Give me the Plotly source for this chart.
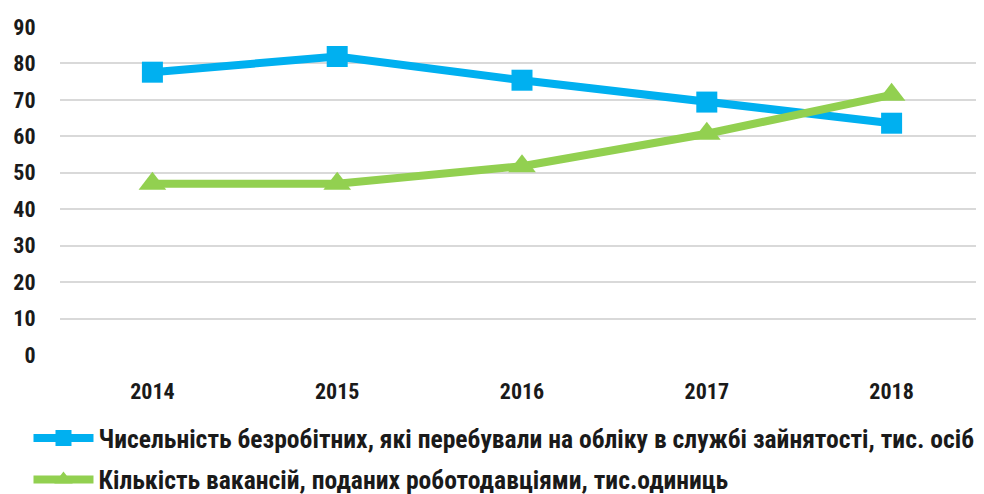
import plotly.graph_objects as go

years = ["2014", "2015", "2016", "2017", "2018"]
unemployed = [77.6, 81.9, 75.4, 69.4, 63.6]
vacancies = [47.0, 47.0, 51.8, 60.7, 71.4]

unemployed_name = "Чисельність безробітних, які перебували на обліку в службі зайнятості, тис. осіб"
vacancies_name = "Кількість вакансій, поданих роботодавціями, тис.одиниць"

FONT = "Liberation Sans Narrow, Roboto Condensed, Arial Narrow, sans-serif"
TEXT = "#1a1a1a"

fig = go.Figure()
fig.add_trace(go.Scatter(
    x=years, y=unemployed, name=unemployed_name, mode="lines+markers",
    line=dict(color="#00B0F0", width=8),
    marker=dict(symbol="square", size=21, color="#00B0F0"),
    legendgroup="a",
))
fig.add_trace(go.Scatter(
    x=years, y=vacancies, name=vacancies_name, mode="lines+markers",
    line=dict(color="#92D050", width=8),
    marker=dict(symbol="triangle-up", size=24, color="#92D050"),
    legendgroup="b",
))

# page body has an 8px margin, so the figure is sized to fit the window
fig.update_layout(
    width=976, height=486,
    margin=dict(l=52, r=0, t=19, b=139, autoexpand=False),
    plot_bgcolor="white", paper_bgcolor="white",
    font=dict(family=FONT, size=22, color=TEXT, weight="bold"),
    showlegend=True,
    legend=dict(
        orientation="v", xref="container", yref="container",
        x=0.021, y=0.1626, xanchor="left", yanchor="top",
        font=dict(family=FONT, size=25.6, color=TEXT, weight="bold"),
        tracegroupgap=5, itemwidth=60,
    ),
)
fig.update_xaxes(
    type="category", range=[-0.5, 4.5], showgrid=False, showline=False,
    ticks="outside", ticklen=17, tickcolor="rgba(0,0,0,0)", tickangle=0,
    tickfont=dict(family=FONT, size=22, color=TEXT, weight="bold"),
)
fig.update_yaxes(
    range=[0, 90], dtick=10, showgrid=True, gridcolor="#d9d9d9", gridwidth=2,
    zeroline=False, showline=False,
    ticks="outside", ticklen=19, tickcolor="rgba(0,0,0,0)",
    tickfont=dict(family=FONT, size=22, color=TEXT, weight="bold"),
)

fig.write_html("out.html")
